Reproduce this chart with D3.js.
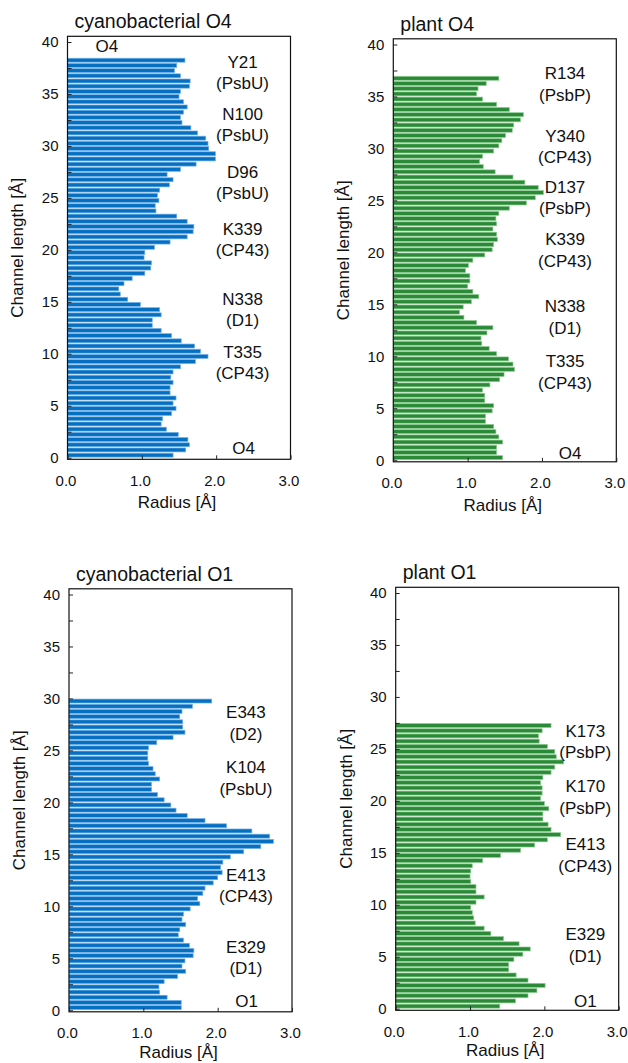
<!DOCTYPE html>
<html>
<head>
<meta charset="utf-8">
<script src="https://cdn.jsdelivr.net/npm/d3@7"></script>
<style>
  body { margin: 0; background: #fff; }
  svg text { font-family: "Liberation Sans", Arial, sans-serif; fill: #111; }
  .axis path.domain { display: none; }
  .axis line { stroke: #222; }
</style>
</head>
<body>
<svg id="chart" width="628" height="1063"></svg>
<script>
// Pore radius along the channel, listed from channel length 0.25 upward in 0.5 Å steps
const cyanoO4Radius = [
  1.42, 1.59, 1.64, 1.62, 1.49, 1.33, 1.26, 1.28, 1.40, 1.46,
  1.42, 1.46, 1.38, 1.38, 1.42, 1.39, 1.42, 1.52, 1.72, 1.89,
  1.79, 1.71, 1.53, 1.40, 1.26, 1.14, 1.14, 1.26, 1.24, 0.98,
  0.81, 0.71, 0.69, 0.76, 0.87, 1.04, 1.12, 1.13, 1.03, 1.04,
  1.17, 1.38, 1.61, 1.69, 1.70, 1.61, 1.47, 1.19, 1.18, 1.23,
  1.21, 1.24, 1.37, 1.42, 1.34, 1.52, 1.73, 1.99, 1.99, 1.90,
  1.89, 1.86, 1.75, 1.66, 1.54, 1.52, 1.56, 1.61, 1.56, 1.50,
  1.52, 1.64, 1.65, 1.52, 1.44, 1.47, 1.58
];
const plantO4Radius = [
  1.47, 1.39, 1.39, 1.47, 1.42, 1.38, 1.35, 1.24, 1.24, 1.33,
  1.35, 1.23, 1.23, 1.20, 1.30, 1.43, 1.49, 1.63, 1.61, 1.55,
  1.39, 1.29, 1.19, 1.18, 1.26, 1.34, 1.12, 0.95, 0.89, 0.94,
  1.05, 1.15, 1.07, 1.00, 1.03, 1.03, 0.97, 1.01, 1.07, 1.23,
  1.33, 1.35, 1.40, 1.39, 1.34, 1.39, 1.38, 1.42, 1.56, 1.79,
  1.91, 2.02, 1.95, 1.77, 1.61, 1.37, 1.21, 1.16, 1.20, 1.35,
  1.42, 1.46, 1.51, 1.60, 1.62, 1.71, 1.75, 1.56, 1.39, 1.20,
  1.12, 1.14, 1.25, 1.42
];
const cyanoO1Radius = [
  1.51, 1.51, 1.32, 1.22, 1.21, 1.28, 1.46, 1.57, 1.52, 1.56,
  1.67, 1.68, 1.62, 1.54, 1.47, 1.49, 1.57, 1.52, 1.54, 1.63,
  1.76, 1.73, 1.80, 1.83, 1.94, 2.00, 2.06, 2.04, 2.07, 2.17,
  2.35, 2.58, 2.75, 2.70, 2.46, 2.12, 1.83, 1.59, 1.44, 1.37,
  1.28, 1.19, 1.11, 1.11, 1.22, 1.16, 1.13, 1.07, 1.06, 1.06,
  1.07, 1.18, 1.40, 1.56, 1.53, 1.53, 1.49, 1.52, 1.66, 1.92
];
const plantO1Radius = [
  1.40, 1.61, 1.78, 1.90, 2.01, 1.78, 1.62, 1.52, 1.52, 1.59,
  1.71, 1.81, 1.66, 1.45, 1.28, 1.19, 1.07, 1.05, 1.03, 1.01,
  1.08, 1.19, 1.08, 1.08, 1.01, 1.00, 1.01, 1.03, 1.17, 1.41,
  1.68, 1.87, 2.04, 2.22, 2.09, 2.05, 1.98, 1.98, 2.06, 2.00,
  1.95, 1.97, 1.97, 1.95, 1.98, 2.09, 2.14, 2.26, 2.16, 2.14,
  2.04, 1.93, 1.92, 1.97, 2.09
];

const lengthStart = 0.25;
const lengthStep = 0.5;

const yTickValues = [0, 2.5, 5, 7.5, 10, 12.5, 15, 17.5, 20, 22.5, 25, 27.5, 30, 32.5, 35, 37.5, 40];
const xTickValues = [0, 1, 2, 3];

// residue labels: [line 1, line 2, channel length]
const cyanoO4Labels = [
  ["Y21", "(PsbU)", 37.07], ["N100", "(PsbU)", 32.04], ["D96", "(PsbU)", 26.46],
  ["K339", "(CP43)", 20.99], ["N338", "(D1)", 14.26], ["T335", "(CP43)", 9.15]
];
const plantO4Labels = [
  ["R134", "(PsbP)", 36.19], ["Y340", "(CP43)", 30.19], ["D137", "(PsbP)", 25.29],
  ["K339", "(CP43)", 20.24], ["N338", "(D1)", 13.78], ["T335", "(CP43)", 8.46]
];
const cyanoO1Labels = [
  ["E343", "(D2)", 27.62], ["K104", "(PsbU)", 22.36], ["E413", "(CP43)", 11.99], ["E329", "(D1)", 5.07]
];
const plantO1Labels = [
  ["K173", "(PsbP)", 25.70], ["K170", "(PsbP)", 20.34], ["E413", "(CP43)", 14.81], ["E329", "(D1)", 6.14]
];

class ChannelChart {
  constructor(_config, _data) {
    this.config = {
      parentElement: _config.parentElement,
      left: _config.left,
      top: _config.top,
      width: _config.width || 223,
      height: _config.height || 423,
      title: _config.title,
      fill: _config.fill,
      edge: _config.edge,
      labels: _config.labels,
      labelX: _config.labelX,
      endLabel: _config.endLabel,
      endX: _config.endX,
      endY: _config.endY,
      startLabel: _config.startLabel,
      xTitleGap: _config.xTitleGap || 43
    };
    this.data = _data;
    this.initVis();
  }

  initVis() {
    let vis = this;
    vis.width = vis.config.width;
    vis.height = vis.config.height;

    vis.xScale = d3.scaleLinear().domain([0, 3]).range([0, vis.width]);
    vis.yScale = d3.scaleLinear().domain([-0.15, 40.55]).range([vis.height, 0]);

    vis.chart = d3.select(vis.config.parentElement)
      .append("g")
      .attr("transform", `translate(${vis.config.left},${vis.config.top})`);

    vis.yAxis = d3.axisLeft(vis.yScale)
      .tickValues(yTickValues)
      .tickSizeInner(-4)
      .tickSizeOuter(0)
      .tickPadding(9)
      .tickFormat(d => (d % 5 === 0 ? d : ""));

    vis.xAxis = d3.axisBottom(vis.xScale)
      .tickValues(xTickValues)
      .tickSizeInner(-4)
      .tickSizeOuter(0)
      .tickFormat(d3.format(".1f"));

    vis.chart.append("text")
      .attr("x", 7)
      .attr("y", -15)
      .attr("dy", "0.35em")
      .style("font-size", "19.5px")
      .text(vis.config.title);

    vis.chart.append("text")
      .attr("transform", `translate(-50,${vis.height / 2}) rotate(-90)`)
      .attr("text-anchor", "middle")
      .attr("dy", "0.35em")
      .style("font-size", "17px")
      .text("Channel length [Å]");

    vis.chart.append("text")
      .attr("x", vis.width / 2 - 2)
      .attr("y", vis.height + vis.config.xTitleGap)
      .attr("text-anchor", "middle")
      .attr("dy", "0.35em")
      .style("font-size", "17px")
      .text("Radius [Å]");

    vis.renderVis();
  }

  renderVis() {
    let vis = this;
    const bars = vis.data.map((r, i) => ({ length: lengthStart + i * lengthStep, radius: r }));
    const half = 0.19;

    vis.chart.selectAll(".bar")
      .data(bars)
      .join("rect")
      .attr("class", "bar")
      .attr("x", vis.xScale(0))
      .attr("y", d => vis.yScale(d.length + half))
      .attr("width", d => vis.xScale(d.radius) - vis.xScale(0))
      .attr("height", vis.yScale(0) - vis.yScale(2 * half))
      .attr("fill", vis.config.fill)
      .attr("stroke", vis.config.edge)
      .attr("stroke-width", 0.7);

    vis.chart.append("rect")
      .attr("width", vis.width)
      .attr("height", vis.height)
      .attr("fill", "none")
      .attr("stroke", "#111")
      .attr("stroke-width", 1.2);

    const yG = vis.chart.append("g").attr("class", "axis y-axis").call(vis.yAxis);
    yG.selectAll("text").style("font-size", "15px").attr("fill", "#111");

    const xG = vis.chart.append("g")
      .attr("class", "axis x-axis")
      .attr("transform", `translate(0,${vis.height})`)
      .call(vis.xAxis);
    xG.selectAll("text")
      .style("font-size", "15px")
      .attr("fill", "#111")
      .attr("x", -2)
      .attr("y", 21)
      .attr("dy", "0.35em");

    const lab = vis.chart.append("g").style("font-size", "17px").attr("text-anchor", "middle");
    vis.config.labels.forEach(([a, b, len]) => {
      const yc = vis.yScale(len);
      lab.append("text").attr("x", vis.xScale(vis.config.labelX)).attr("y", yc - 10.8).attr("dy", "0.35em").text(a);
      lab.append("text").attr("x", vis.xScale(vis.config.labelX)).attr("y", yc + 10.8).attr("dy", "0.35em").text(b);
    });
    lab.append("text")
      .attr("x", vis.xScale(vis.config.endX))
      .attr("y", vis.yScale(vis.config.endY))
      .attr("dy", "0.35em")
      .text(vis.config.endLabel);
    if (vis.config.startLabel) {
      lab.append("text")
        .attr("x", vis.xScale(0.53))
        .attr("y", vis.yScale(39.6))
        .attr("dy", "0.35em")
        .text(vis.config.startLabel);
    }
  }
}

const svg = "#chart";
const blue = "#0570c2", blueEdge = "#74b0e6";
const green = "#2a8a37", greenEdge = "#8ccb90";

new ChannelChart({ parentElement: svg, left: 67.5, top: 36.3, title: "cyanobacterial O4",
  fill: blue, edge: blueEdge, labels: cyanoO4Labels, labelX: 2.355,
  endLabel: "O4", endX: 2.37, endY: 0.93, startLabel: "O4" }, cyanoO4Radius);

new ChannelChart({ parentElement: svg, left: 393.3, top: 38.8, title: "plant O4",
  fill: green, edge: greenEdge, labels: plantO4Labels, labelX: 2.31,
  endLabel: "O4", endX: 2.38, endY: 0.69 }, plantO4Radius);

new ChannelChart({ parentElement: svg, left: 69, top: 588.8, title: "cyanobacterial O1",
  fill: blue, edge: blueEdge, labels: cyanoO1Labels, labelX: 2.38,
  endLabel: "O1", endX: 2.39, endY: 0.85, xTitleGap: 40 }, cyanoO1Radius);

new ChannelChart({ parentElement: svg, left: 395.7, top: 587.3, title: "plant O1",
  fill: green, edge: greenEdge, labels: plantO1Labels, labelX: 2.55,
  endLabel: "O1", endX: 2.55, endY: 0.70, xTitleGap: 40 }, plantO1Radius);
</script>
</body>
</html>
